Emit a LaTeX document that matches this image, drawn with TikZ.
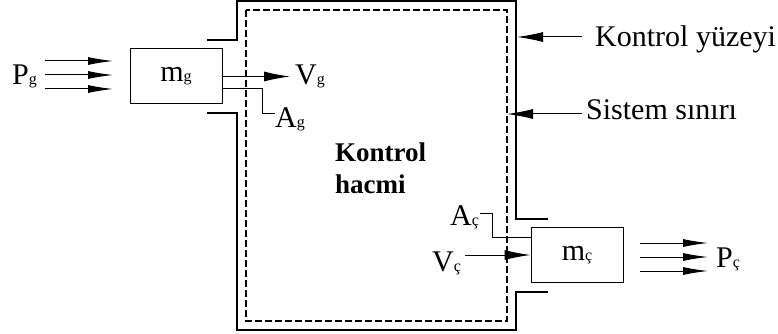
\documentclass[tikz,border=0pt]{standalone}
\usepackage{fontspec}
\setmainfont{Liberation Serif}
\usetikzlibrary{arrows.meta}
\newcommand{\ix}[1]{{\fontsize{16}{16}\selectfont #1}}

\begin{document}
\begin{tikzpicture}[
  x=1pt, y=-1pt,
  wall/.style={
    line width=1.3pt, line join=miter
  },
  sysline/.style={
    line width=1.1pt, dash pattern=on 7pt off 3pt
  },
  mbox/.style={
    draw, line width=1pt, minimum width=92pt, minimum height=55pt,
    inner sep=0pt, font=\fontsize{30}{36}\selectfont
  },
  lbl/.style={
    inner sep=0pt, font=\fontsize{30}{36}\selectfont
  },
  arr/.style={
    -{Latex[length=26pt, width=10pt]}, line width=1pt
  },
  parr/.style={
    -{Latex[length=25pt, width=8pt]}, line width=1pt
  },
  lnk/.style={
    line width=1pt
  }
]
\useasboundingbox (0,0) rectangle (778,334);

% Control surface (solid) and system boundary (dashed)
\draw[wall] (207,40) -- (237,40) -- (237,1) -- (516,1) -- (516,219) -- (548,219);
\draw[wall] (207,113) -- (237,113) -- (237,330) -- (516,330) -- (516,292) -- (548,292);
\draw[sysline] (246,10) rectangle (507,321);

% Masses
\node[mbox] (mg) at (176,76.5) {m\ix{g}};
\node[mbox] (mc) at (577,255) {m\ix{ç}};

% Labels
\node[lbl, anchor=base west] (pg) at (12,85) {P\ix{g}};
\node[lbl, anchor=base west] (vg) at (295,85) {V\ix{g}};
\node[lbl, anchor=base west] (ag) at (275,127) {A\ix{g}};
\node[lbl, anchor=base west] (vc) at (432,271) {V\ix{ç}};
\node[lbl, anchor=base west] (ac) at (450,225) {A\ix{ç}};
\node[lbl, anchor=base west] (pc) at (716,267) {P\ix{ç}};
\node[lbl, anchor=base west] (ky) at (595,47) {Kontrol yüzeyi};
\node[lbl, anchor=base west] (ss) at (586,120) {Sistem sınırı};
\node[inner sep=0pt, anchor=base west, align=left,
  font=\fontsize{27}{31.5}\selectfont\bfseries] (kh) at (335,193) {Kontrol\\hacmi};

% Free ends
\coordinate (pg-a) at (45,75);
\coordinate (pg-b) at (113,75);
\coordinate (pc-a) at (640,257);
\coordinate (pc-b) at (708,257);
\coordinate (vg-tip) at (290,76.5);
\coordinate (ag-c) at (262,114);
\coordinate (ag-e) at (275,114);
\coordinate (vc-a) at (465,255);
\coordinate (ac-c) at (492,213);
\coordinate (ac-e) at (480,213);
\coordinate (ky-a) at (582,37);
\coordinate (ky-b) at (517,37);
\coordinate (ss-a) at (582,114);
\coordinate (ss-b) at (507,114);

% Pressure arrows
\foreach \dy in {-14,0,14} {
  \draw[parr] ([yshift=\dy pt]pg-a) -- ([yshift=\dy pt]pg-b);
  \draw[parr] ([yshift=\dy pt]pc-a) -- ([yshift=\dy pt]pc-b);
}

% Velocities and areas
\draw[arr] (mg.east) -- (vg-tip);
\draw[lnk] ([yshift=-12.5pt]mg.east) -| (ag-c) -- (ag-e);
\draw[arr] (vc-a) -- (mc.west);
\draw[lnk] ([yshift=18pt]mc.west) -| (ac-c) -- (ac-e);

% Pointers
\draw[arr] (ky-a) -- (ky-b);
\draw[arr] (ss-a) -- (ss-b);

\end{tikzpicture}
\end{document}
